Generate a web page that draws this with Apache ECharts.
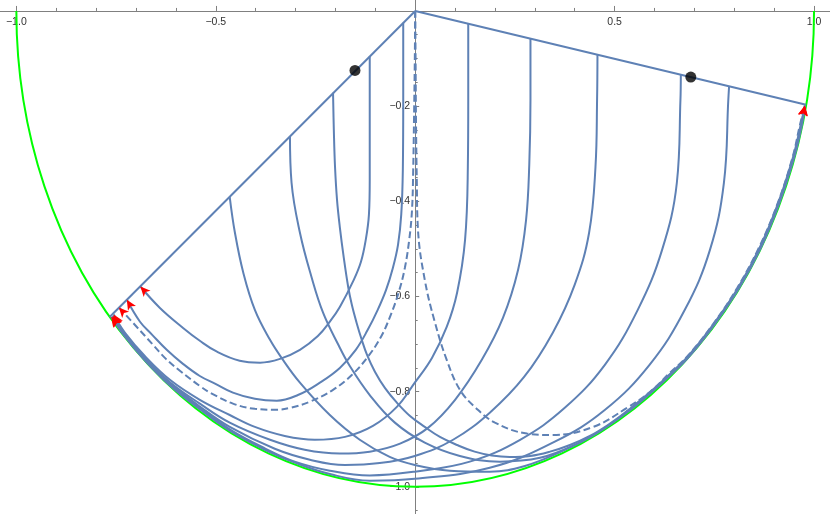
<!DOCTYPE html>
<html lang="en">
<head>
<meta charset="UTF-8">
<title>Trajectories</title>
<script src="https://cdn.jsdelivr.net/npm/echarts@6/dist/echarts.min.js"></script>
<style>html,body{margin:0;padding:0;background:#fff}</style>
</head>
<body>
<div id="main" style="width: 830px;height: 514px"></div>
<script>
  // plot range
  const xMin = -1.041, xMax = 1.040, yMin = -1.057, yMax = 0.023;

  // ticks and labels
  const xMajorTicks = [-1, -0.5, 0.5, 1];
  const xTickLabels = ['\u22121.0', '\u22120.5', '0.5', '1.0'];
  const xMinorTicks = [-0.9, -0.8, -0.7, -0.6, -0.4, -0.3, -0.2, -0.1, 0.1, 0.2, 0.3, 0.4, 0.6, 0.7, 0.8, 0.9];
  const yMajorTicks = [-1, -0.8, -0.6, -0.4, -0.2];
  const yTickLabels = ['\u22121.0', '\u22120.8', '\u22120.6', '\u22120.4', '\u22120.2'];
  const yMinorTicks = [-1.05, -0.95, -0.9, -0.85, -0.75, -0.7, -0.65, -0.55, -0.5, -0.45, -0.35, -0.3, -0.25, -0.15, -0.1, -0.05];

  // unit circle boundary: centre x, centre y, radius
  const boundary = [[0, 0, 1]];
  // the two straight edges from the origin
  const rayLeft = [[0, 0], [-0.766, -0.643]];
  const rayRight = [[0, 0], [0.980, -0.197]];
  const markedPoints = [[-0.151, -0.125], [0.691, -0.139]];

  // curves starting on the left edge
  const curveL1 = [[-0.030,-0.025],[-0.030,-0.187],[-0.031,-0.334],[-0.035,-0.428],[-0.043,-0.491],[-0.056,-0.540],[-0.073,-0.586],[-0.094,-0.628],[-0.119,-0.670],[-0.149,-0.712],[-0.189,-0.750],[-0.239,-0.781],[-0.294,-0.807],[-0.347,-0.819],[-0.402,-0.815],[-0.457,-0.802],[-0.502,-0.783],[-0.540,-0.767],[-0.583,-0.741],[-0.623,-0.712],[-0.660,-0.680],[-0.690,-0.653],[-0.723,-0.607]];
  const curveL2 = [[-0.114,-0.095],[-0.114,-0.229],[-0.114,-0.355],[-0.116,-0.428],[-0.124,-0.481],[-0.136,-0.527],[-0.154,-0.565],[-0.189,-0.622],[-0.214,-0.653],[-0.244,-0.683],[-0.289,-0.712],[-0.339,-0.731],[-0.389,-0.739],[-0.440,-0.735],[-0.497,-0.716],[-0.540,-0.693],[-0.582,-0.666],[-0.640,-0.624],[-0.689,-0.579]];
  const curveL3 = [[-0.206,-0.172],[-0.204,-0.250],[-0.201,-0.328],[-0.196,-0.397],[-0.189,-0.454],[-0.179,-0.519],[-0.168,-0.580],[-0.159,-0.617],[-0.147,-0.655],[-0.134,-0.691],[-0.121,-0.722],[-0.101,-0.758],[-0.076,-0.792],[-0.046,-0.823],[-0.013,-0.851],[0.024,-0.874],[0.062,-0.895],[0.105,-0.912],[0.149,-0.926],[0.192,-0.934],[0.237,-0.937],[0.288,-0.935],[0.338,-0.926],[0.388,-0.912],[0.438,-0.893],[0.483,-0.870],[0.526,-0.844],[0.563,-0.819],[0.601,-0.792],[0.645,-0.758],[0.685,-0.725],[0.748,-0.658],[0.810,-0.581],[0.864,-0.497],[0.909,-0.406],[0.947,-0.308],[0.967,-0.238],[0.977,-0.199]];
  const curveL4 = [[-0.314,-0.263],[-0.310,-0.361],[-0.289,-0.466],[-0.260,-0.559],[-0.231,-0.634],[-0.193,-0.701],[-0.164,-0.746],[-0.114,-0.807],[-0.051,-0.865],[0.024,-0.907],[0.112,-0.935],[0.212,-0.947],[0.313,-0.939],[0.400,-0.912],[0.476,-0.876],[0.551,-0.828],[0.614,-0.783],[0.686,-0.725],[0.750,-0.658],[0.811,-0.581],[0.865,-0.497],[0.911,-0.406],[0.949,-0.308],[0.968,-0.238],[0.977,-0.199]];
  const curveL5 = [[-0.465,-0.391],[-0.452,-0.466],[-0.431,-0.550],[-0.402,-0.628],[-0.364,-0.691],[-0.335,-0.729],[-0.289,-0.781],[-0.214,-0.849],[-0.139,-0.901],[-0.064,-0.937],[-0.001,-0.954],[0.087,-0.966],[0.187,-0.968],[0.275,-0.956],[0.363,-0.927],[0.451,-0.889],[0.526,-0.847],[0.589,-0.804],[0.639,-0.766],[0.688,-0.725],[0.751,-0.658],[0.813,-0.581],[0.867,-0.497],[0.912,-0.406],[0.950,-0.308],[0.970,-0.238],[0.977,-0.199]];

  // curves starting on the right edge
  const curveR1 = [[0.133,-0.027],[0.133,-0.187],[0.132,-0.328],[0.125,-0.481],[0.105,-0.592],[0.079,-0.664],[0.042,-0.729],[-0.001,-0.781],[-0.046,-0.832],[-0.106,-0.872],[-0.176,-0.895],[-0.252,-0.901],[-0.327,-0.893],[-0.402,-0.874],[-0.465,-0.849],[-0.540,-0.817],[-0.615,-0.775],[-0.678,-0.725],[-0.728,-0.676],[-0.756,-0.638]];
  const curveR2 = [[0.289,-0.058],[0.289,-0.187],[0.286,-0.323],[0.278,-0.439],[0.258,-0.544],[0.220,-0.645],[0.167,-0.733],[0.100,-0.817],[0.032,-0.876],[-0.038,-0.909],[-0.114,-0.926],[-0.189,-0.930],[-0.277,-0.922],[-0.364,-0.901],[-0.465,-0.865],[-0.540,-0.825],[-0.615,-0.780],[-0.678,-0.729],[-0.728,-0.679],[-0.758,-0.641]];
  const curveR3 = [[0.457,-0.092],[0.456,-0.187],[0.452,-0.328],[0.436,-0.466],[0.400,-0.575],[0.345,-0.676],[0.273,-0.769],[0.187,-0.844],[0.095,-0.901],[-0.001,-0.935],[-0.089,-0.950],[-0.176,-0.954],[-0.264,-0.943],[-0.352,-0.920],[-0.465,-0.874],[-0.540,-0.831],[-0.615,-0.782],[-0.678,-0.731],[-0.728,-0.682],[-0.759,-0.642]];
  const curveR4 = [[0.666,-0.134],[0.665,-0.187],[0.656,-0.361],[0.619,-0.502],[0.558,-0.628],[0.476,-0.743],[0.375,-0.834],[0.263,-0.901],[0.137,-0.947],[-0.001,-0.968],[-0.114,-0.976],[-0.214,-0.966],[-0.302,-0.947],[-0.377,-0.919],[-0.465,-0.879],[-0.540,-0.834],[-0.615,-0.784],[-0.678,-0.733],[-0.728,-0.683],[-0.761,-0.643]];
  const curveR5 = [[0.787,-0.158],[0.785,-0.187],[0.774,-0.361],[0.739,-0.502],[0.676,-0.628],[0.588,-0.743],[0.476,-0.838],[0.350,-0.905],[0.187,-0.960],[-0.001,-0.983],[-0.114,-0.987],[-0.214,-0.973],[-0.302,-0.949],[-0.377,-0.922],[-0.465,-0.882],[-0.540,-0.837],[-0.615,-0.787],[-0.678,-0.734],[-0.728,-0.684],[-0.762,-0.643]];

  // the two dashed separating curves from the origin
  const dashLeft = [[0,0],[-0.001,-0.103],[-0.003,-0.229],[-0.005,-0.334],[-0.008,-0.418],[-0.015,-0.481],[-0.026,-0.540],[-0.041,-0.590],[-0.061,-0.638],[-0.086,-0.685],[-0.119,-0.727],[-0.159,-0.765],[-0.206,-0.796],[-0.264,-0.821],[-0.314,-0.834],[-0.347,-0.838],[-0.402,-0.836],[-0.457,-0.825],[-0.510,-0.804],[-0.540,-0.788],[-0.590,-0.756],[-0.625,-0.731],[-0.660,-0.699],[-0.698,-0.664],[-0.743,-0.623]];
  const dashRight = [[0,0],[0.001,-0.103],[0.002,-0.229],[0.004,-0.355],[0.007,-0.460],[0.024,-0.565],[0.049,-0.653],[0.079,-0.733],[0.112,-0.796],[0.152,-0.834],[0.200,-0.865],[0.280,-0.888],[0.345,-0.891],[0.446,-0.874],[0.531,-0.834],[0.589,-0.800],[0.639,-0.760],[0.683,-0.725],[0.747,-0.658],[0.808,-0.581],[0.862,-0.497],[0.908,-0.406],[0.946,-0.308],[0.965,-0.238],[0.977,-0.199]];

  const solidCurves = [curveL1, curveL2, curveL3, curveL4, curveL5, curveR1, curveR2, curveR3, curveR4, curveR5];
  const dashedCurves = [dashLeft, dashRight];

  const blue = '#5e81b5';
  const axisGray = '#808080';
  const labelStyle = { color: '#333', fontSize: 10.5, fontFamily: 'Liberation Sans, Arial, sans-serif' };

  function curveSeries(data, dashed) {
    return {
      type: 'line',
      data: data,
      smooth: 0.4,
      symbol: 'none',
      silent: true,
      z: 3,
      lineStyle: { color: blue, width: 2, type: dashed ? [7, 3.5] : 'solid' }
    };
  }

  function labelFor(values, labels) {
    return function (v) {
      const n = Number(v);
      for (let i = 0; i < values.length; i++) {
        if (Math.abs(values[i] - n) < 1e-6) return labels[i];
      }
      return (n < 0 ? '\u2212' : '') + Math.abs(n).toFixed(1);
    };
  }

  const series = [];

  // green boundary, half ellipse through the bottom
  series.push({
    type: 'custom',
    data: boundary,
    silent: true,
    z: 1,
    renderItem: function (params, api) {
      const c = api.coord([api.value(0), api.value(1)]);
      const s = api.size([api.value(2), api.value(2)]);
      return {
        type: 'path',
        shape: {
          pathData: 'M ' + (c[0] - s[0]) + ' ' + c[1] + ' A ' + s[0] + ' ' + s[1] + ' 0 0 0 ' + (c[0] + s[0]) + ' ' + c[1]
        },
        style: { fill: 'none', stroke: '#00ff00', lineWidth: 2 }
      };
    }
  });

  solidCurves.forEach(function (c) { series.push(curveSeries(c, false)); });
  dashedCurves.forEach(function (c) { series.push(curveSeries(c, true)); });
  series.push(curveSeries(rayLeft, false));
  series.push(curveSeries(rayRight, false));

  series.push({
    type: 'scatter',
    data: markedPoints,
    symbolSize: 11,
    silent: true,
    z: 5,
    itemStyle: { color: '#000' }
  });

  // red arrow heads at the curve ends
  const arrowData = solidCurves.concat(dashedCurves).map(function (c) {
    return { coords: [c[c.length - 2], c[c.length - 1]] };
  });
  series.push({
    type: 'lines',
    coordinateSystem: 'cartesian2d',
    silent: true,
    z: 6,
    symbol: ['none', 'arrow'],
    symbolSize: [0, [7, 10]],
    lineStyle: { color: '#ff0000', width: 0, opacity: 1 },
    data: arrowData
  });

  // axes crossing at the origin: placed with offsets once the origin pixel is known
  function axes(offX, offY) {
    return {
      xAxis: [
        {
          type: 'value', min: xMin, max: xMax, position: 'top', offset: offX,
          axisLine: { onZero: false, lineStyle: { color: axisGray, width: 1 } },
          axisTick: { inside: false, length: 5, customValues: xMajorTicks, lineStyle: { color: axisGray } },
          axisLabel: Object.assign({ inside: true, customValues: xMajorTicks, margin: 6, formatter: labelFor(xMajorTicks, xTickLabels) }, labelStyle),
          splitLine: { show: false }
        },
        {
          type: 'value', min: xMin, max: xMax, position: 'top', offset: offX,
          axisLine: { show: false, onZero: false },
          axisTick: { inside: false, length: 3, customValues: xMinorTicks, lineStyle: { color: axisGray } },
          axisLabel: { show: false },
          splitLine: { show: false }
        }
      ],
      yAxis: [
        {
          type: 'value', min: yMin, max: yMax, position: 'left', offset: offY,
          axisLine: { onZero: false, lineStyle: { color: axisGray, width: 1 } },
          axisTick: { inside: true, length: 4, customValues: yMajorTicks, lineStyle: { color: axisGray } },
          axisLabel: Object.assign({ customValues: yMajorTicks, margin: 5, formatter: labelFor(yMajorTicks, yTickLabels) }, labelStyle),
          splitLine: { show: false }
        },
        {
          type: 'value', min: yMin, max: yMax, position: 'left', offset: offY,
          axisLine: { show: false, onZero: false },
          axisTick: { inside: true, length: 2.5, customValues: yMinorTicks, lineStyle: { color: axisGray } },
          axisLabel: { show: false },
          splitLine: { show: false }
        }
      ]
    };
  }

  const chart = echarts.init(document.getElementById('main'));
  const option = Object.assign({
    animation: false,
    backgroundColor: '#fff',
    grid: { left: 0, right: 0, top: 0, bottom: 0, containLabel: false, outerBoundsMode: 'none' },
    series: series
  }, axes(0, 0));
  chart.setOption(option);

  const origin = chart.convertToPixel({ gridIndex: 0 }, [0, 0]);
  chart.setOption(axes(-origin[1], -origin[0]));
</script>
</body>
</html>
